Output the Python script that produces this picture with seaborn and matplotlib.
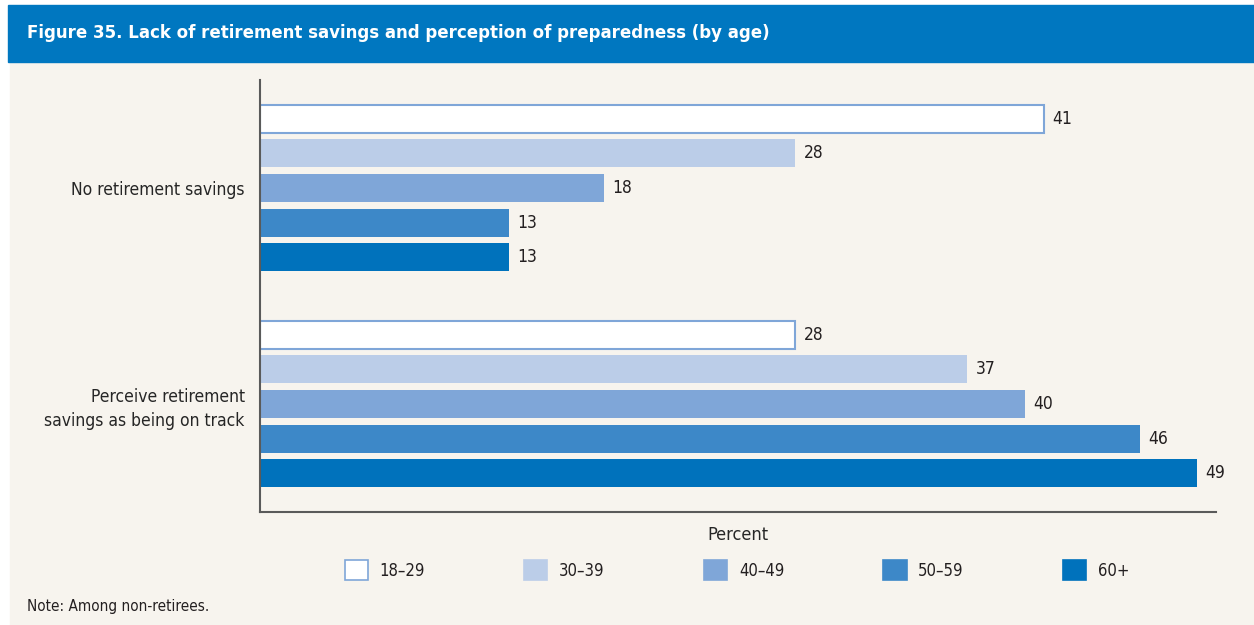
import matplotlib
matplotlib.use("Agg")
import matplotlib.pyplot as plt
import matplotlib.patches as mpatches
import seaborn as sns
import pandas as pd

# data
categories = ["No retirement savings", "Perceive retirement\nsavings as being on track"]
age_groups = ["18–29", "30–39", "40–49", "50–59", "60+"]
no_savings = [41, 28, 18, 13, 13]
on_track = [28, 37, 40, 46, 49]

colors = ["#FFFFFF", "#BBCDE8", "#7FA6D8", "#3D88C8", "#0072BC"]
bg = "#F7F4EE"
bar_edge = "#7FA6D8"

rows = []
for g, v in zip(age_groups, no_savings):
    rows.append({"measure": categories[0], "age": g, "pct": v})
for g, v in zip(age_groups, on_track):
    rows.append({"measure": categories[1], "age": g, "pct": v})
df = pd.DataFrame(rows)

sns.set_style("white")
plt.rcParams["font.family"] = ["Liberation Sans Narrow", "DejaVu Sans"]
plt.rcParams["font.stretch"] = "condensed"
plt.rcParams["text.color"] = "#231F20"

fig = plt.figure(figsize=(12.54, 6.25), dpi=100)
fig.patch.set_facecolor("white")

# cream panel and blue title bar
fig.patches.append(mpatches.Rectangle((10 / 1254, 0), 1 - 10 / 1254, 1 - 62 / 625,
                                      transform=fig.transFigure, color=bg, zorder=-5))
fig.patches.append(mpatches.Rectangle((8 / 1254, 1 - 62 / 625), 1 - 8 / 1254, 57 / 625,
                                      transform=fig.transFigure, color="#0077C0", zorder=-5))
fig.text(27 / 1254, 1 - 33 / 625, "Figure 35. Lack of retirement savings and perception of preparedness (by age)",
         color="white", fontsize=13.3, fontweight="bold", va="center", ha="left")

ax = fig.add_axes([260 / 1254, 1 - 512 / 625, (1216 - 260) / 1254, (512 - 80) / 625])
ax.set_zorder(2)
ax.set_facecolor(bg)

sns.barplot(data=df, y="measure", x="pct", hue="age", hue_order=age_groups,
            palette=colors, saturation=1, orient="h", gap=0.19, width=0.8, ax=ax,
            legend=False, linewidth=0)

for i, cont in enumerate(ax.containers):
    if i == 0:
        for bar in cont:
            bar.set_edgecolor(bar_edge)
            bar.set_linewidth(1.5)
    ax.bar_label(cont, fmt="%d", padding=6, fontsize=12.5, color="#231F20")

ax.set_xlim(0, 50)
ax.set_ylim(1.5, -0.5)
ax.set_xticks([])
ax.set_ylabel("")
ax.set_xlabel("Percent", fontsize=13, labelpad=10)
ax.tick_params(axis="y", length=0, pad=11, labelsize=12.5)
for lbl in ax.get_yticklabels():
    lbl.set_linespacing(1.4)
    lbl.set_horizontalalignment("right")

for side in ["top", "right"]:
    ax.spines[side].set_visible(False)
for side in ["left", "bottom"]:
    ax.spines[side].set_color("#5A5A5A")
    ax.spines[side].set_linewidth(1.5)

handles = []
for g, c in zip(age_groups, colors):
    handles.append(mpatches.Patch(facecolor=c, edgecolor=bar_edge if c == "#FFFFFF" else c,
                                  linewidth=1.2, label=g))
fig.legend(handles=handles, loc="center", bbox_to_anchor=(737 / 1254, 1 - 570 / 625),
           ncol=5, frameon=False, fontsize=12, handlelength=1.4, handleheight=1.45,
           handletextpad=0.7, columnspacing=5.95)

fig.text(27 / 1254, 1 - 606 / 625, "Note: Among non-retirees.", fontsize=11, va="center", ha="left")

fig.savefig("out.png", dpi=100, facecolor=fig.get_facecolor())
